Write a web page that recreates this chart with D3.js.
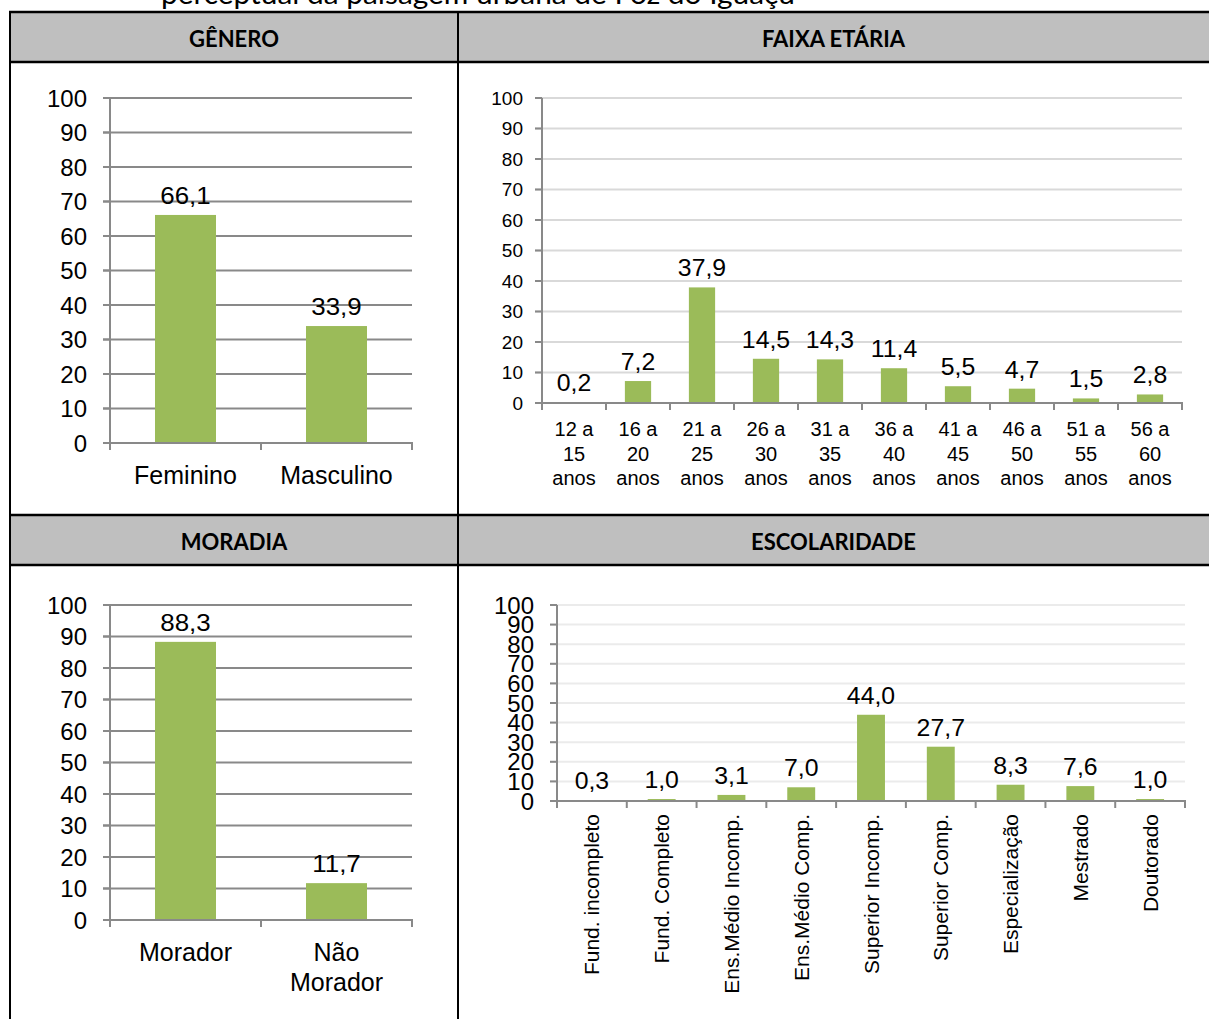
<!DOCTYPE html>
<html>
<head>
<meta charset="utf-8">
<script src="https://cdn.jsdelivr.net/npm/d3@7"></script>
<style>
  body { margin: 0; background: #fff; }
  svg { display: block; }
  text { font-family: Arial, "Liberation Sans", sans-serif; fill: #000; }
  .head { font-family: Lato, "Open Sans", sans-serif; font-weight: bold; }
</style>
</head>
<body>
<div id="chart"></div>
<script>

// Data (percent of respondents)
var generoCats = ["Feminino", "Masculino"];
var generoVals = [66.1, 33.9];

var idadeCats = ["12 a 15 anos", "16 a 20 anos", "21 a 25 anos", "26 a 30 anos", "31 a 35 anos",
                 "36 a 40 anos", "41 a 45 anos", "46 a 50 anos", "51 a 55 anos", "56 a 60 anos"];
var idadeVals = [0.2, 7.2, 37.9, 14.5, 14.3, 11.4, 5.5, 4.7, 1.5, 2.8];

var moradiaCats = ["Morador", "Não Morador"];
var moradiaVals = [88.3, 11.7];

var escolaCats = ["Fund. incompleto", "Fund. Completo", "Ens.Médio Incomp.", "Ens.Médio Comp.",
                  "Superior Incomp.", "Superior Comp.", "Especialização", "Mestrado", "Doutorado"];
var escolaVals = [0.3, 1.0, 3.1, 7.0, 44.0, 27.7, 8.3, 7.6, 1.0];

var yTicks = [0, 10, 20, 30, 40, 50, 60, 70, 80, 90, 100];
var headers = ["GÊNERO", "FAIXA ETÁRIA", "MORADIA", "ESCOLARIDADE"];
var caption = "perceptual da paisagem urbana de Foz do Iguaçu";

var W = 1209, H = 1019;
var barColor = "#9bbb59";
var fmt = function(v) { return d3.format(".1f")(v).replace(".", ","); };

var svg = d3.select("#chart").append("svg")
	.attr("width", W)
	.attr("height", H);

///////////////////////////////////////////////////////////////////////////
///////////////////////////// Table frame /////////////////////////////////
///////////////////////////////////////////////////////////////////////////

//Caption text cut by the top of the page
svg.append("text")
	.attr("class", "head")
	.attr("x", 161)
	.attr("y", 4)
	.attr("textLength", 634)
	.attr("lengthAdjust", "spacingAndGlyphs")
	.style("font-weight", "normal")
	.style("font-size", "28px")
	.text(caption);

var colX = [10, 458, W];
var headRows = [[12, 62], [515, 565]];

headRows.forEach(function(r, ri) {
	svg.append("rect")
		.attr("x", colX[0]).attr("y", r[0])
		.attr("width", W - colX[0]).attr("height", r[1] - r[0])
		.style("fill", "#bfbfbf");
	[0, 1].forEach(function(ci) {
		svg.append("text")
			.attr("class", "head")
			.attr("x", (colX[ci] + colX[ci + 1]) / 2)
			.attr("y", (r[0] + r[1]) / 2 + 2)
			.attr("dy", "0.36em")
			.attr("text-anchor", "middle")
			.style("font-size", "22px")
			.text(headers[ri * 2 + ci]);
	});
});

//Border lines
[12, 62, 515, 565].forEach(function(y) {
	svg.append("line")
		.attr("x1", colX[0] - 1).attr("x2", W)
		.attr("y1", y).attr("y2", y)
		.style("stroke", "#000").style("stroke-width", 2.5);
});
[colX[0], colX[1]].forEach(function(x) {
	svg.append("line")
		.attr("x1", x).attr("x2", x)
		.attr("y1", 11).attr("y2", H)
		.style("stroke", "#000").style("stroke-width", 2);
});

///////////////////////////////////////////////////////////////////////////
///////////////////////////// Bar chart ///////////////////////////////////
///////////////////////////////////////////////////////////////////////////

function wrap(text, width, lineH) {
	text.each(function() {
		var t = d3.select(this),
			words = t.text().split(" "),
			x = t.attr("x"),
			line = [],
			tspan = t.text(null).append("tspan").attr("x", x).attr("dy", "0.36em");
		words.forEach(function(w) {
			line.push(w);
			tspan.text(line.join(" "));
			if (tspan.node().getComputedTextLength() > width && line.length > 1) {
				line.pop();
				tspan.text(line.join(" "));
				line = [w];
				tspan = t.append("tspan").attr("x", x).attr("dy", lineH).text(w);
			}
		});
	});
}

function barChart(o) {
	var g = svg.append("g");

	var x = d3.scaleBand().domain(o.cats).range([o.x0, o.x1]).padding(0);
	var y = d3.scaleLinear().domain([0, 100]).range([o.y0, o.y1]);
	var bw = x.bandwidth() * o.barRatio;

	//Gridlines
	g.selectAll(".grid")
		.data(yTicks.slice(1))
		.enter().append("line")
		.attr("x1", o.x0 - o.tick).attr("x2", o.x1)
		.attr("y1", function(d) { return y(d); })
		.attr("y2", function(d) { return y(d); })
		.style("stroke", o.grid)
		.style("stroke-width", 2);

	//Y tick labels
	g.selectAll(".ytick")
		.data(yTicks)
		.enter().append("text")
		.attr("x", o.x0 - o.labelGap)
		.attr("y", function(d) { return y(d); })
		.attr("dy", "0.36em")
		.attr("text-anchor", "end")
		.style("font-size", o.tickFont + "px")
		.text(function(d) { return d; });

	//Bars
	g.selectAll(".bar")
		.data(o.vals)
		.enter().append("rect")
		.attr("x", function(d, i) { return x(o.cats[i]) + (x.bandwidth() - bw) / 2; })
		.attr("y", function(d) { return y(d); })
		.attr("width", bw)
		.attr("height", function(d) { return y(0) - y(d); })
		.style("fill", barColor);

	//Axes
	var axisCol = "#898989";
	g.append("line")
		.attr("x1", o.x0).attr("x2", o.x0)
		.attr("y1", y(100)).attr("y2", y(0) + o.tick)
		.style("stroke", axisCol).style("stroke-width", 2);
	g.append("line")
		.attr("x1", o.x0 - o.tick).attr("x2", o.x1 + 1)
		.attr("y1", y(0)).attr("y2", y(0))
		.style("stroke", axisCol).style("stroke-width", 2);
	g.selectAll(".ytk")
		.data(yTicks)
		.enter().append("line")
		.attr("x1", o.x0 - o.tick).attr("x2", o.x0)
		.attr("y1", function(d) { return y(d); })
		.attr("y2", function(d) { return y(d); })
		.style("stroke", axisCol).style("stroke-width", 2);
	g.selectAll(".xtk")
		.data(d3.range(o.cats.length + 1))
		.enter().append("line")
		.attr("x1", function(i) { return o.x0 + i * x.step(); })
		.attr("x2", function(i) { return o.x0 + i * x.step(); })
		.attr("y1", y(0)).attr("y2", y(0) + o.tick)
		.style("stroke", axisCol).style("stroke-width", 2);

	//Value labels (slightly wide, as in the original picture)
	g.selectAll(".val")
		.data(o.vals)
		.enter().append("text")
		.attr("transform", function(d, i) {
			return "translate(" + (x(o.cats[i]) + x.bandwidth() / 2) + "," + (y(d) - o.valGap) + ") scale(1.08,1)";
		})
		.attr("text-anchor", "middle")
		.style("font-size", o.valFont + "px")
		.text(fmt);

	//Category labels
	if (o.rotate) {
		g.selectAll(".cat")
			.data(o.cats)
			.enter().append("text")
			.attr("transform", function(d) {
				return "translate(" + (x(d) + x.bandwidth() / 2) + "," + o.catY + ") rotate(-90)";
			})
			.attr("dy", "0.36em")
			.attr("text-anchor", "end")
			.style("font-size", o.catFont + "px")
			.text(function(d) { return d; });
	} else {
		g.selectAll(".cat")
			.data(o.cats)
			.enter().append("text")
			.attr("x", function(d) { return x(d) + x.bandwidth() / 2; })
			.attr("y", o.catY)
			.attr("text-anchor", "middle")
			.style("font-size", o.catFont + "px")
			.text(function(d) { return d; })
			.call(wrap, x.bandwidth() * 0.8, o.lineH);
	}
}

barChart({ cats: generoCats, vals: generoVals, x0: 110, x1: 412, y0: 443, y1: 98,
	grid: "#898989", tick: 7, labelGap: 23, tickFont: 24, valFont: 24, valGap: 11, catFont: 25,
	catY: 475, lineH: 30, barRatio: 0.404 });

barChart({ cats: idadeCats, vals: idadeVals, x0: 542, x1: 1182, y0: 403, y1: 98,
	grid: "#d9d9d9", tick: 7, labelGap: 19, tickFont: 19, valFont: 23, valGap: 11, catFont: 20,
	catY: 429, lineH: 24.5, barRatio: 0.41 });

barChart({ cats: moradiaCats, vals: moradiaVals, x0: 110, x1: 412, y0: 920, y1: 605,
	grid: "#898989", tick: 7, labelGap: 23, tickFont: 24, valFont: 24, valGap: 11, catFont: 25,
	catY: 952, lineH: 30, barRatio: 0.404 });

barChart({ cats: escolaCats, vals: escolaVals, x0: 557, x1: 1185, y0: 801, y1: 605,
	grid: "#ebebeb", tick: 7, labelGap: 23, tickFont: 24, valFont: 23, valGap: 11, catFont: 21,
	catY: 814, rotate: true, barRatio: 0.4 });

</script>
</body>
</html>
